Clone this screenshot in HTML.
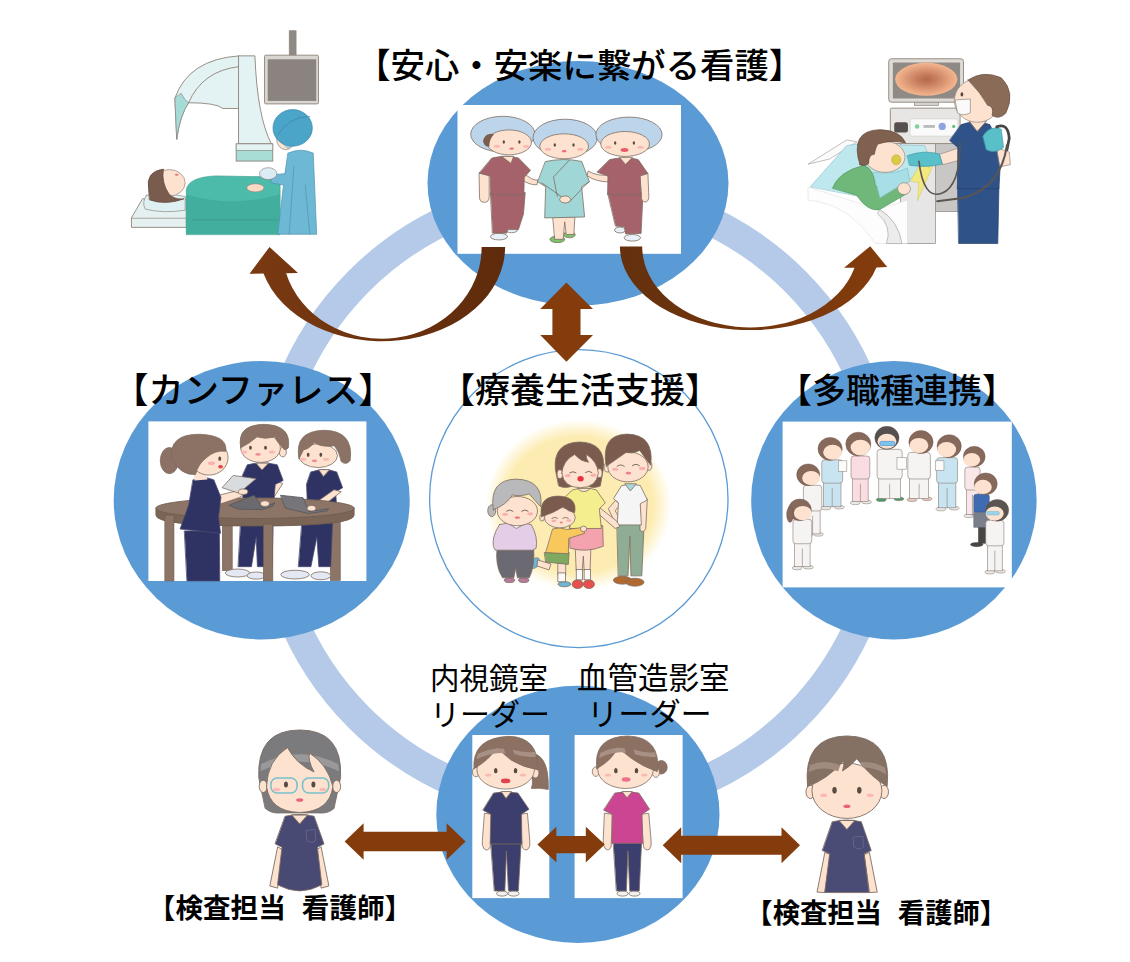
<!DOCTYPE html>
<html lang="ja"><head><meta charset="utf-8"><title>diagram</title>
<style>html,body{margin:0;padding:0;background:#fff;font-family:"Liberation Sans",sans-serif}svg{display:block}</style></head><body>
<svg width="1130" height="962" viewBox="0 0 1130 962">
<defs>
<radialGradient id="glow" cx="50%" cy="50%" r="50%"><stop offset="0" stop-color="#fdecb2"/><stop offset="0.8" stop-color="#fdecb2"/><stop offset="1" stop-color="#fdecb2" stop-opacity="0"/></radialGradient>
<linearGradient id="cl" x1="0" x2="1" y1="0" y2="0"><stop offset="0" stop-color="#7a3a12"/><stop offset="1" stop-color="#5e2b0c"/></linearGradient>
<linearGradient id="cr" x1="0" x2="1" y1="0" y2="0"><stop offset="0" stop-color="#64300e"/><stop offset="1" stop-color="#843c0c"/></linearGradient>
<radialGradient id="scr" cx="50%" cy="50%" r="50%"><stop offset="0" stop-color="#b4684a"/><stop offset="0.35" stop-color="#c98062"/><stop offset="1" stop-color="#f4b78e"/></radialGradient>
</defs>
<rect width="1130" height="962" fill="#fff"/>
<circle cx="577" cy="499.3" r="308.5" fill="none" stroke="#b4cae8" stroke-width="29"/>
<ellipse cx="578" cy="183.3" rx="150.5" ry="122.2" fill="#5b9bd5"/>
<ellipse cx="261.7" cy="500.2" rx="148" ry="139.2" fill="#5b9bd5"/>
<ellipse cx="893.9" cy="500.2" rx="142.7" ry="139.2" fill="#5b9bd5"/>
<ellipse cx="577.9" cy="814.3" rx="141.6" ry="128.6" fill="#5b9bd5"/>
<ellipse cx="578.8" cy="498.6" rx="149.2" ry="149" fill="#fff" stroke="#5b9bd5" stroke-width="1.3"/>
<rect x="457.5" y="105" width="223.5" height="148.8" fill="#fff"/>
<rect x="148.4" y="421.4" width="218" height="159.6" fill="#fff"/>
<rect x="782.6" y="421.6" width="229.2" height="165.8" fill="#fff"/>
<rect x="472.3" y="735" width="77" height="163.1" fill="#fff"/>
<rect x="574.6" y="735" width="108" height="163.1" fill="#fff"/>
<ellipse cx="578.6" cy="505" rx="93" ry="85.5" fill="url(#glow)"/>
<g transform="translate(460,105) scale(0.19470)"><ellipse cx="265" cy="642" rx="30" ry="14" fill="#e9f1f8" stroke="#7d6c61" stroke-width="4"/><ellipse cx="200" cy="676" rx="44" ry="17" fill="#e9f1f8" stroke="#7d6c61" stroke-width="4"/><path d="M158,450 L335,450 L326,560 L300,640 L245,640 L240,658 L168,658 Z" fill="#a5626b" stroke="#7d6c61" stroke-width="4" stroke-linejoin="round" stroke-linecap="round"/><path d="M100,350 L150,360 L150,470 Q150,500 125,500 Q98,500 100,470 Z" fill="#fce2cf" stroke="#7d6c61" stroke-width="4" stroke-linejoin="round" stroke-linecap="round"/><path d="M330,350 Q370,390 400,385 L395,410 Q350,410 322,385 Z" fill="#fce2cf" stroke="#7d6c61" stroke-width="4" stroke-linejoin="round" stroke-linecap="round"/><path d="M165,272 Q235,255 300,272 L362,335 L330,372 L328,460 L158,460 L155,365 L100,350 Z" fill="#a5626b" stroke="#7d6c61" stroke-width="4" stroke-linejoin="round" stroke-linecap="round"/><path d="M215,265 L262,300 L275,265 Z" fill="#fce2cf" stroke="#7d6c61" stroke-width="4" stroke-linejoin="round" stroke-linecap="round"/><ellipse cx="220" cy="150" rx="165" ry="92" fill="#bcd5ea" stroke="#7d6c61" stroke-width="4"/><ellipse cx="252" cy="192" rx="115" ry="64" fill="#fce2cf" stroke="#7d6c61" stroke-width="4"/><path d="M118,185 Q130,140 175,150 Q150,175 150,215 Q125,215 118,185 Z" fill="#7a5d4f"/><ellipse cx="225" cy="190" rx="6" ry="9.0" fill="#5a4a42"/><ellipse cx="305" cy="190" rx="6" ry="9.0" fill="#5a4a42"/><ellipse cx="190" cy="212" rx="16" ry="8" fill="#f9b9b4"/><ellipse cx="340" cy="212" rx="16" ry="8" fill="#f9b9b4"/><ellipse cx="265" cy="224" rx="12" ry="6.0" fill="#e8727a"/><ellipse cx="562" cy="666" rx="30" ry="16" fill="#7cc36a" stroke="#7d6c61" stroke-width="4"/><ellipse cx="500" cy="690" rx="38" ry="17" fill="#7cc36a" stroke="#7d6c61" stroke-width="4"/><path d="M478,575 L590,575 L585,665 L545,665 L538,600 L530,690 L488,690 Z" fill="#fce2cf" stroke="#7d6c61" stroke-width="4" stroke-linejoin="round" stroke-linecap="round"/><path d="M440,290 Q535,270 625,290 L665,395 L625,420 L640,575 L435,580 L440,420 L400,395 Z" fill="#a0d6d6" stroke="#7d6c61" stroke-width="4" stroke-linejoin="round" stroke-linecap="round"/><path d="M560,285 L480,370 L500,470" fill="none" stroke="#7d6c61" stroke-width="4" stroke-linejoin="round" stroke-linecap="round"/><path d="M420,400 L520,470 L560,500 L660,395" fill="none" stroke="#7d6c61" stroke-width="4" stroke-linejoin="round" stroke-linecap="round"/><ellipse cx="540" cy="485" rx="28" ry="18" fill="#fce2cf" stroke="#7d6c61" stroke-width="4"/><ellipse cx="540" cy="168" rx="165" ry="95" fill="#bcd5ea" stroke="#7d6c61" stroke-width="4"/><ellipse cx="535" cy="212" rx="125" ry="64" fill="#fce2cf" stroke="#7d6c61" stroke-width="4"/><ellipse cx="487" cy="205" rx="6" ry="9.0" fill="#5a4a42"/><ellipse cx="583" cy="205" rx="6" ry="9.0" fill="#5a4a42"/><ellipse cx="452" cy="227" rx="16" ry="8" fill="#f9b9b4"/><ellipse cx="618" cy="227" rx="16" ry="8" fill="#f9b9b4"/><ellipse cx="535" cy="237" rx="12" ry="6.0" fill="#ea6b78"/><ellipse cx="822" cy="642" rx="28" ry="15" fill="#e9f1f8" stroke="#7d6c61" stroke-width="4"/><ellipse cx="885" cy="682" rx="42" ry="17" fill="#e9f1f8" stroke="#7d6c61" stroke-width="4"/><path d="M760,452 L940,452 L930,660 L850,662 L845,625 L800,622 Z" fill="#a5626b" stroke="#7d6c61" stroke-width="4" stroke-linejoin="round" stroke-linecap="round"/><path d="M925,360 L965,350 L970,470 Q968,500 950,498 Q930,495 932,470 Z" fill="#fce2cf" stroke="#7d6c61" stroke-width="4" stroke-linejoin="round" stroke-linecap="round"/><path d="M660,340 Q700,365 760,360 L765,395 Q700,395 655,365 Z" fill="#fce2cf" stroke="#7d6c61" stroke-width="4" stroke-linejoin="round" stroke-linecap="round"/><path d="M770,280 Q850,262 915,280 L965,352 L925,365 L930,460 L758,460 L760,365 L705,345 Z" fill="#a5626b" stroke="#7d6c61" stroke-width="4" stroke-linejoin="round" stroke-linecap="round"/><path d="M820,270 L850,305 L885,270 Z" fill="#fce2cf" stroke="#7d6c61" stroke-width="4" stroke-linejoin="round" stroke-linecap="round"/><ellipse cx="868" cy="152" rx="170" ry="90" fill="#bcd5ea" stroke="#7d6c61" stroke-width="4"/><ellipse cx="848" cy="200" rx="125" ry="64" fill="#fce2cf" stroke="#7d6c61" stroke-width="4"/><ellipse cx="797" cy="195" rx="6" ry="9.0" fill="#5a4a42"/><ellipse cx="893" cy="195" rx="6" ry="9.0" fill="#5a4a42"/><ellipse cx="762" cy="217" rx="16" ry="8" fill="#f9b9b4"/><ellipse cx="928" cy="217" rx="16" ry="8" fill="#f9b9b4"/><ellipse cx="845" cy="231" rx="20" ry="10.0" fill="#ea5a66"/></g>
<g transform="translate(466,730) scale(0.19822)"><ellipse cx="182" cy="825" rx="28" ry="13" fill="#f1f1f1" stroke="#7d6c61" stroke-width="4"/><ellipse cx="240" cy="825" rx="28" ry="13" fill="#f1f1f1" stroke="#7d6c61" stroke-width="4"/><path d="M126,570 L278,570 L264,812 L214,812 L204,610 L196,812 L144,812 Z" fill="#3c3f6d" stroke="#7d6c61" stroke-width="4" stroke-linejoin="round" stroke-linecap="round"/><path d="M95,420 L130,425 L122,590 Q110,615 92,600 Q78,585 82,560 Z" fill="#fce2cf" stroke="#7d6c61" stroke-width="4" stroke-linejoin="round" stroke-linecap="round"/><path d="M275,425 L310,420 L322,560 Q326,590 312,602 Q292,612 284,590 Z" fill="#fce2cf" stroke="#7d6c61" stroke-width="4" stroke-linejoin="round" stroke-linecap="round"/><path d="M140,318 Q200,305 262,318 L318,400 L280,425 L282,575 L122,575 L125,425 L86,405 Z" fill="#3c3f6d" stroke="#7d6c61" stroke-width="4" stroke-linejoin="round" stroke-linecap="round"/><path d="M178,312 L202,345 L228,312 Z" fill="#fce2cf" stroke="#7d6c61" stroke-width="4" stroke-linejoin="round" stroke-linecap="round"/><path d="M345,120 Q420,140 415,300 Q370,290 330,295 Q345,250 320,200 Z" fill="#8c7163" stroke="#7d6c61" stroke-width="4" stroke-linejoin="round" stroke-linecap="round"/><ellipse cx="50" cy="212" rx="18" ry="24" fill="#fce2cf" stroke="#7d6c61" stroke-width="4"/><ellipse cx="350" cy="218" rx="18" ry="24" fill="#fce2cf" stroke="#7d6c61" stroke-width="4"/><ellipse cx="200" cy="200" rx="145" ry="98" fill="#fce2cf" stroke="#7d6c61" stroke-width="4"/><path d="M40,195 Q30,40 215,32 Q370,35 360,200 Q290,190 225,150 Q160,95 155,90 Q120,150 40,195 Z" fill="#8c7163" stroke="#7d6c61" stroke-width="4" stroke-linejoin="round" stroke-linecap="round"/><path d="M60,120 Q140,85 190,95 L200,118 Q140,108 52,148 Z" fill="#a89084"/><path d="M235,100 Q300,118 350,110 L352,135 Q300,140 245,122 Z" fill="#a89084"/><ellipse cx="150" cy="205" rx="9" ry="13.5" fill="#5a4a42"/><ellipse cx="250" cy="205" rx="9" ry="13.5" fill="#5a4a42"/><ellipse cx="112" cy="227" rx="16" ry="8" fill="#f9b9b4"/><ellipse cx="288" cy="227" rx="16" ry="8" fill="#f9b9b4"/><ellipse cx="200" cy="257" rx="24" ry="12.0" fill="#e2414d"/><ellipse cx="790" cy="825" rx="28" ry="13" fill="#f1f1f1" stroke="#7d6c61" stroke-width="4"/><ellipse cx="850" cy="825" rx="28" ry="13" fill="#f1f1f1" stroke="#7d6c61" stroke-width="4"/><path d="M744,565 L886,565 L874,812 L826,812 L817,610 L809,812 L760,812 Z" fill="#3c3f6d" stroke="#7d6c61" stroke-width="4" stroke-linejoin="round" stroke-linecap="round"/><path d="M700,420 L738,425 L732,590 Q722,612 704,600 Q690,585 692,560 Z" fill="#fce2cf" stroke="#7d6c61" stroke-width="4" stroke-linejoin="round" stroke-linecap="round"/><path d="M885,425 L922,420 L934,560 Q938,590 924,602 Q904,612 896,590 Z" fill="#fce2cf" stroke="#7d6c61" stroke-width="4" stroke-linejoin="round" stroke-linecap="round"/><path d="M752,318 Q812,305 872,318 L926,400 L888,425 L892,572 L736,572 L738,425 L695,405 Z" fill="#cc4592" stroke="#7d6c61" stroke-width="4" stroke-linejoin="round" stroke-linecap="round"/><path d="M788,312 L812,342 L838,312 Z" fill="#fce2cf" stroke="#7d6c61" stroke-width="4" stroke-linejoin="round" stroke-linecap="round"/><ellipse cx="985" cy="188" rx="30" ry="34" fill="#8c7163" stroke="#7d6c61" stroke-width="4"/><ellipse cx="655" cy="210" rx="18" ry="24" fill="#fce2cf" stroke="#7d6c61" stroke-width="4"/><ellipse cx="958" cy="215" rx="18" ry="24" fill="#fce2cf" stroke="#7d6c61" stroke-width="4"/><ellipse cx="805" cy="200" rx="140" ry="95" fill="#fce2cf" stroke="#7d6c61" stroke-width="4"/><path d="M660,195 Q640,35 815,30 Q985,35 965,210 Q890,185 830,140 Q780,100 765,88 Q740,150 660,195 Z" fill="#8c7163" stroke="#7d6c61" stroke-width="4" stroke-linejoin="round" stroke-linecap="round"/><path d="M678,115 Q750,82 800,92 L808,115 Q750,105 670,142 Z" fill="#a89084"/><path d="M845,98 Q905,118 955,112 L958,136 Q905,140 852,122 Z" fill="#a89084"/><ellipse cx="756" cy="205" rx="9" ry="13.5" fill="#5a4a42"/><ellipse cx="860" cy="205" rx="9" ry="13.5" fill="#5a4a42"/><ellipse cx="716" cy="227" rx="16" ry="8" fill="#f9b9b4"/><ellipse cx="900" cy="227" rx="16" ry="8" fill="#f9b9b4"/><ellipse cx="808" cy="250" rx="22" ry="11.0" fill="#ec6f8b"/></g>
<g transform="translate(230,720) scale(0.22124)"><path d="M215,575 L180,750 L215,760 L240,590 Z" fill="#fce2cf" stroke="#7d6c61" stroke-width="4" stroke-linejoin="round" stroke-linecap="round"/><path d="M412,575 L447,750 L412,760 L390,590 Z" fill="#fce2cf" stroke="#7d6c61" stroke-width="4" stroke-linejoin="round" stroke-linecap="round"/><path d="M250,435 Q315,420 380,435 L425,560 L395,575 L415,745 Q315,800 215,745 L235,575 L205,560 Z" fill="#484a73" stroke="#7d6c61" stroke-width="4" stroke-linejoin="round" stroke-linecap="round"/><path d="M280,430 L315,470 L350,430 Z" fill="#fce2cf" stroke="#7d6c61" stroke-width="4" stroke-linejoin="round" stroke-linecap="round"/><path d="M345,500 L385,495 L388,545 Q368,560 348,545 Z" fill="none" stroke="#6f7196" stroke-width="3" stroke-linejoin="round" stroke-linecap="round"/><path d="M130,260 Q120,45 315,45 Q510,45 500,260 L470,400 Q440,425 400,420 L230,420 Q190,425 160,400 Z" fill="#7b7a7d" stroke="#7d6c61" stroke-width="4" stroke-linejoin="round" stroke-linecap="round"/><path d="M140,200 Q315,110 490,200 L492,232 Q315,145 138,232 Z" fill="#99999b"/><ellipse cx="150" cy="300" rx="18" ry="28" fill="#fce2cf" stroke="#7d6c61" stroke-width="4"/><ellipse cx="482" cy="300" rx="18" ry="28" fill="#fce2cf" stroke="#7d6c61" stroke-width="4"/><path d="M165,300 Q170,180 260,125 Q300,200 380,235 Q350,180 360,150 Q440,200 465,300 Q450,415 315,418 Q180,415 165,300 Z" fill="#fce2cf" stroke="#7d6c61" stroke-width="4" stroke-linejoin="round" stroke-linecap="round"/><ellipse cx="253" cy="292" rx="9" ry="13.5" fill="#5a4a42"/><ellipse cx="377" cy="292" rx="9" ry="13.5" fill="#5a4a42"/><ellipse cx="210" cy="314" rx="16" ry="8" fill="#f9b9b4"/><ellipse cx="420" cy="314" rx="16" ry="8" fill="#f9b9b4"/><ellipse cx="315" cy="362" rx="16" ry="8.0" fill="#e8627a"/><rect x="185" y="262" width="118" height="68" fill="none" stroke="#78c1cc" stroke-width="7" rx="28"/><rect x="328" y="262" width="118" height="68" fill="none" stroke="#78c1cc" stroke-width="7" rx="28"/></g>
<g transform="translate(650,720) scale(0.22124)"><path d="M790,600 L755,778 L790,780 L815,610 Z" fill="#fce2cf" stroke="#7d6c61" stroke-width="4" stroke-linejoin="round" stroke-linecap="round"/><path d="M992,600 L1027,778 L992,780 L968,610 Z" fill="#fce2cf" stroke="#7d6c61" stroke-width="4" stroke-linejoin="round" stroke-linecap="round"/><path d="M825,460 Q890,445 955,460 L1000,590 L968,605 L990,780 L790,780 L812,605 L780,590 Z" fill="#4a4c75" stroke="#7d6c61" stroke-width="4" stroke-linejoin="round" stroke-linecap="round"/><path d="M855,455 L890,495 L925,455 Z" fill="#fce2cf" stroke="#7d6c61" stroke-width="4" stroke-linejoin="round" stroke-linecap="round"/><ellipse cx="725" cy="325" rx="20" ry="30" fill="#fce2cf" stroke="#7d6c61" stroke-width="4"/><ellipse cx="1058" cy="325" rx="20" ry="30" fill="#fce2cf" stroke="#7d6c61" stroke-width="4"/><ellipse cx="890" cy="320" rx="158" ry="125" fill="#fce2cf" stroke="#7d6c61" stroke-width="4"/><path d="M712,300 Q690,75 890,72 Q1095,75 1072,300 Q1000,260 935,175 Q900,215 870,230 Q880,200 875,185 Q800,270 712,300 Z" fill="#857163" stroke="#7d6c61" stroke-width="4" stroke-linejoin="round" stroke-linecap="round"/><path d="M722,205 Q790,175 860,205 L850,232 Q790,205 716,235 Z" fill="#a08b7e"/><path d="M950,190 Q1010,185 1062,215 L1068,245 Q1010,212 962,215 Z" fill="#a08b7e"/><ellipse cx="834" cy="318" rx="10" ry="15.0" fill="#5a4a42"/><ellipse cx="946" cy="318" rx="10" ry="15.0" fill="#5a4a42"/><ellipse cx="785" cy="340" rx="16" ry="8" fill="#f9b9b4"/><ellipse cx="995" cy="340" rx="16" ry="8" fill="#f9b9b4"/><ellipse cx="890" cy="390" rx="16" ry="8.0" fill="#e8627a"/><path d="M920,530 L962,525 L965,575 Q945,590 923,575 Z" fill="none" stroke="#6f7196" stroke-width="3" stroke-linejoin="round" stroke-linecap="round"/></g>
<g transform="translate(146,418) scale(0.19822)"><rect x="385" y="500" width="50" height="270" fill="#8c7466" stroke="#6e5a4e" stroke-width="3"/><rect x="930" y="500" width="50" height="320" fill="#8c7466" stroke="#6e5a4e" stroke-width="3"/><ellipse cx="462" cy="782" rx="62" ry="20" fill="#e3e8f3" stroke="#7d6c61" stroke-width="4"/><ellipse cx="556" cy="795" rx="46" ry="18" fill="#e3e8f3" stroke="#7d6c61" stroke-width="4"/><path d="M480,500 L642,500 L636,750 L562,750 L556,600 L532,750 L466,750 Z" fill="#2f3364" stroke="#4a4a70" stroke-width="4" stroke-linejoin="round" stroke-linecap="round"/><path d="M655,320 L690,330 L620,440 L580,430 Z" fill="#fce2cf" stroke="#7d6c61" stroke-width="4" stroke-linejoin="round" stroke-linecap="round"/><path d="M512,236 Q590,218 662,236 L692,315 L652,335 L642,450 L490,450 L486,292 Z" fill="#2f3364" stroke="#4a4a70" stroke-width="4" stroke-linejoin="round" stroke-linecap="round"/><path d="M555,228 L585,262 L618,228 Z" fill="#fce2cf" stroke="#7d6c61" stroke-width="4" stroke-linejoin="round" stroke-linecap="round"/><ellipse cx="690" cy="172" rx="18" ry="24" fill="#fce2cf" stroke="#7d6c61" stroke-width="4"/><ellipse cx="578" cy="152" rx="100" ry="72" fill="#fce2cf" stroke="#7d6c61" stroke-width="4"/><path d="M478,150 Q455,35 595,32 Q735,35 718,150 Q700,170 690,150 Q660,120 650,95 Q600,110 560,95 Q520,130 478,150 Z" fill="#8b7265" stroke="#7d6c61" stroke-width="4" stroke-linejoin="round" stroke-linecap="round"/><ellipse cx="527" cy="150" rx="7" ry="10.5" fill="#5a4a42"/><ellipse cx="603" cy="150" rx="7" ry="10.5" fill="#5a4a42"/><ellipse cx="495" cy="172" rx="16" ry="8" fill="#f9b9b4"/><ellipse cx="635" cy="172" rx="16" ry="8" fill="#f9b9b4"/><ellipse cx="565" cy="184" rx="14" ry="7.0" fill="#ef8e93"/><ellipse cx="752" cy="790" rx="72" ry="22" fill="#e3e8f3" stroke="#7d6c61" stroke-width="4"/><ellipse cx="882" cy="796" rx="50" ry="20" fill="#e3e8f3" stroke="#7d6c61" stroke-width="4"/><path d="M790,500 L942,500 L932,750 L872,750 L862,600 L832,750 L770,750 Z" fill="#2f3364" stroke="#4a4a70" stroke-width="4" stroke-linejoin="round" stroke-linecap="round"/><path d="M832,272 Q900,250 962,272 L992,352 L957,372 L962,460 L815,460 L810,335 Z" fill="#2f3364" stroke="#4a4a70" stroke-width="4" stroke-linejoin="round" stroke-linecap="round"/><path d="M950,362 L985,372 L870,460 L825,450 Z" fill="#fce2cf" stroke="#7d6c61" stroke-width="4" stroke-linejoin="round" stroke-linecap="round"/><path d="M872,262 L895,295 L925,262 Z" fill="#fce2cf" stroke="#7d6c61" stroke-width="4" stroke-linejoin="round" stroke-linecap="round"/><ellipse cx="868" cy="190" rx="98" ry="60" fill="#fce2cf" stroke="#7d6c61" stroke-width="4"/><path d="M772,205 Q745,65 900,62 Q1050,65 1030,215 Q1010,240 985,220 Q975,170 950,140 Q890,150 850,125 Q815,160 795,160 Q785,180 772,205 Z" fill="#8b7265" stroke="#7d6c61" stroke-width="4" stroke-linejoin="round" stroke-linecap="round"/><ellipse cx="818" cy="186" rx="7" ry="10.5" fill="#5a4a42"/><ellipse cx="882" cy="186" rx="7" ry="10.5" fill="#5a4a42"/><ellipse cx="792" cy="208" rx="16" ry="8" fill="#f9b9b4"/><ellipse cx="908" cy="208" rx="16" ry="8" fill="#f9b9b4"/><ellipse cx="850" cy="216" rx="14" ry="7.0" fill="#ef8e93"/><path d="M50,455 L50,490 Q50,545 550,545 Q1050,545 1050,490 L1050,455 Z" fill="#7b6557" stroke="#6e5a4e" stroke-width="4" stroke-linejoin="round" stroke-linecap="round"/><ellipse cx="550" cy="455" rx="500" ry="52" fill="#8c7466" stroke="#6e5a4e" stroke-width="4"/><path d="M420,440 L545,390 L588,452 L650,428 L640,445 L590,462 L470,460 Z" fill="#6b6b6f" stroke="#55555a" stroke-width="4" stroke-linejoin="round" stroke-linecap="round"/><path d="M680,390 L792,402 L822,472 L920,458 L915,468 L820,482 L705,455 Z" fill="#76767a" stroke="#55555a" stroke-width="4" stroke-linejoin="round" stroke-linecap="round"/><ellipse cx="600" cy="432" rx="22" ry="14" fill="#fce2cf" stroke="#7d6c61" stroke-width="4"/><ellipse cx="835" cy="455" rx="22" ry="14" fill="#fce2cf" stroke="#7d6c61" stroke-width="4"/><rect x="95" y="490" width="46" height="332" fill="#8c7466" stroke="#6e5a4e" stroke-width="3"/><rect x="592" y="535" width="48" height="287" fill="#8c7466" stroke="#6e5a4e" stroke-width="3"/><path d="M195,570 L370,570 L372,822 L208,822 Z" fill="#2f3364" stroke="#4a4a70" stroke-width="4" stroke-linejoin="round" stroke-linecap="round"/><path d="M345,395 L480,362 L505,378 L470,402 L362,438 Z" fill="#fce2cf" stroke="#7d6c61" stroke-width="4" stroke-linejoin="round" stroke-linecap="round"/><path d="M238,312 Q290,290 342,312 L378,400 L366,500 L376,582 L172,560 L215,440 Z" fill="#2f3364" stroke="#4a4a70" stroke-width="4" stroke-linejoin="round" stroke-linecap="round"/><path d="M385,350 L440,290 L556,306 L470,378 Z" fill="#d9dcdf" stroke="#7d6c61" stroke-width="4" stroke-linejoin="round" stroke-linecap="round"/><ellipse cx="490" cy="372" rx="24" ry="14" fill="#fce2cf" stroke="#7d6c61" stroke-width="4"/><path d="M240,270 L300,270 L310,310 L245,315 Z" fill="#fce2cf"/><ellipse cx="118" cy="215" rx="46" ry="66" fill="#8b7265" stroke="#7d6c61" stroke-width="4"/><ellipse cx="318" cy="200" rx="96" ry="88" fill="#fce2cf" stroke="#7d6c61" stroke-width="4"/><path d="M128,205 Q115,80 270,82 Q415,88 402,168 Q350,160 305,200 Q262,232 250,285 Q175,290 128,205 Z" fill="#8b7265" stroke="#7d6c61" stroke-width="4" stroke-linejoin="round" stroke-linecap="round"/><ellipse cx="372" cy="205" rx="7" ry="11" fill="#5a4a42"/><ellipse cx="330" cy="228" rx="18" ry="9" fill="#f9b0ad"/><ellipse cx="376" cy="246" rx="12" ry="9" fill="#e8414b"/></g>
<g transform="translate(780,418) scale(0.20886)"><ellipse cx="132" cy="561" rx="24" ry="9" fill="#ece9e6" stroke="#857a70" stroke-width="2.5"/><ellipse cx="184" cy="557" rx="24" ry="9" fill="#ece9e6" stroke="#857a70" stroke-width="2.5"/><rect x="120" y="440" width="72" height="115" fill="#f5f4f3" stroke="#8d8178" stroke-width="3"/><path d="M156.0,470 L156.0,555" fill="none" stroke="#8d8178" stroke-width="3" stroke-linejoin="round" stroke-linecap="round"/><rect x="112" y="322" width="88" height="123" fill="#f5f4f3" stroke="#8d8178" stroke-width="3" rx="14"/><ellipse cx="135" cy="272" rx="55" ry="52.25" fill="#87695b" stroke="#6b5246" stroke-width="2"/><ellipse cx="149" cy="287.4" rx="42.9" ry="34.1" fill="#fce2cf"/><ellipse cx="220" cy="431" rx="24" ry="9" fill="#ece9e6" stroke="#857a70" stroke-width="2.5"/><ellipse cx="284" cy="427" rx="24" ry="9" fill="#ece9e6" stroke="#857a70" stroke-width="2.5"/><rect x="208" y="307" width="84" height="118" fill="#c9e4f1" stroke="#8d8178" stroke-width="3"/><path d="M250.0,337 L250.0,425" fill="none" stroke="#8d8178" stroke-width="3" stroke-linejoin="round" stroke-linecap="round"/><rect x="200" y="200" width="100" height="112" fill="#c9e4f1" stroke="#8d8178" stroke-width="3" rx="14"/><ellipse cx="240" cy="148" rx="58" ry="55.099999999999994" fill="#87695b" stroke="#6b5246" stroke-width="2"/><ellipse cx="252" cy="164.24" rx="45.24" ry="35.96" fill="#fce2cf"/><ellipse cx="360" cy="406" rx="24" ry="9" fill="#ece9e6" stroke="#857a70" stroke-width="2.5"/><ellipse cx="414" cy="402" rx="24" ry="9" fill="#ece9e6" stroke="#857a70" stroke-width="2.5"/><rect x="348" y="287" width="74" height="113" fill="#fadde2" stroke="#8d8178" stroke-width="3"/><path d="M385.0,317 L385.0,400" fill="none" stroke="#8d8178" stroke-width="3" stroke-linejoin="round" stroke-linecap="round"/><rect x="340" y="182" width="90" height="110" fill="#fadde2" stroke="#8d8178" stroke-width="3" rx="14"/><ellipse cx="375" cy="125" rx="60" ry="57.0" fill="#87695b" stroke="#6b5246" stroke-width="2"/><ellipse cx="385" cy="141.8" rx="46.800000000000004" ry="37.2" fill="#fce2cf"/><ellipse cx="485" cy="391" rx="24" ry="9" fill="#4c9a6c" stroke="#857a70" stroke-width="2.5"/><ellipse cx="569" cy="387" rx="24" ry="9" fill="#4c9a6c" stroke="#857a70" stroke-width="2.5"/><rect x="473" y="287" width="104" height="98" fill="#f5f4f3" stroke="#8d8178" stroke-width="3"/><path d="M525.0,317 L525.0,385" fill="none" stroke="#8d8178" stroke-width="3" stroke-linejoin="round" stroke-linecap="round"/><rect x="465" y="150" width="120" height="142" fill="#f5f4f3" stroke="#8d8178" stroke-width="3" rx="14"/><ellipse cx="512" cy="95" rx="58" ry="55.099999999999994" fill="#55504f" stroke="#6b5246" stroke-width="2"/><ellipse cx="512" cy="111.24000000000001" rx="45.24" ry="35.96" fill="#fce2cf"/><rect x="478" y="112" width="72" height="20" fill="#7cc4ee" stroke="#3f8fd0" stroke-width="3" rx="8"/><ellipse cx="632" cy="391" rx="24" ry="9" fill="#e4c9c0" stroke="#857a70" stroke-width="2.5"/><ellipse cx="704" cy="387" rx="24" ry="9" fill="#e4c9c0" stroke="#857a70" stroke-width="2.5"/><rect x="620" y="287" width="92" height="98" fill="#f5f4f3" stroke="#8d8178" stroke-width="3"/><path d="M666.0,317 L666.0,385" fill="none" stroke="#8d8178" stroke-width="3" stroke-linejoin="round" stroke-linecap="round"/><rect x="612" y="165" width="108" height="127" fill="#f5f4f3" stroke="#8d8178" stroke-width="3" rx="14"/><ellipse cx="675" cy="115" rx="58" ry="55.099999999999994" fill="#87695b" stroke="#6b5246" stroke-width="2"/><ellipse cx="665" cy="131.24" rx="45.24" ry="35.96" fill="#fce2cf"/><ellipse cx="770" cy="436" rx="24" ry="9" fill="#ece9e6" stroke="#857a70" stroke-width="2.5"/><ellipse cx="834" cy="432" rx="24" ry="9" fill="#ece9e6" stroke="#857a70" stroke-width="2.5"/><rect x="758" y="307" width="84" height="123" fill="#c9e4f1" stroke="#8d8178" stroke-width="3"/><path d="M800.0,337 L800.0,430" fill="none" stroke="#8d8178" stroke-width="3" stroke-linejoin="round" stroke-linecap="round"/><rect x="750" y="190" width="100" height="122" fill="#c9e4f1" stroke="#8d8178" stroke-width="3" rx="14"/><ellipse cx="810" cy="135" rx="58" ry="55.099999999999994" fill="#87695b" stroke="#6b5246" stroke-width="2"/><ellipse cx="798" cy="151.24" rx="45.24" ry="35.96" fill="#fce2cf"/><ellipse cx="905" cy="468" rx="24" ry="9" fill="#ece9e6" stroke="#857a70" stroke-width="2.5"/><ellipse cx="942" cy="464" rx="24" ry="9" fill="#ece9e6" stroke="#857a70" stroke-width="2.5"/><rect x="893" y="340" width="57" height="122" fill="#f9e6e8" stroke="#8d8178" stroke-width="3"/><path d="M921.5,370 L921.5,462" fill="none" stroke="#8d8178" stroke-width="3" stroke-linejoin="round" stroke-linecap="round"/><rect x="885" y="235" width="73" height="110" fill="#f9e6e8" stroke="#8d8178" stroke-width="3" rx="14"/><ellipse cx="930" cy="185" rx="52" ry="49.4" fill="#87695b" stroke="#6b5246" stroke-width="2"/><ellipse cx="918" cy="199.56" rx="40.56" ry="32.24" fill="#fce2cf"/><ellipse cx="82" cy="718" rx="24" ry="9" fill="#ece9e6" stroke="#857a70" stroke-width="2.5"/><ellipse cx="136" cy="714" rx="24" ry="9" fill="#ece9e6" stroke="#857a70" stroke-width="2.5"/><rect x="70" y="597" width="74" height="115" fill="#f5f4f3" stroke="#8d8178" stroke-width="3"/><path d="M107.0,627 L107.0,712" fill="none" stroke="#8d8178" stroke-width="3" stroke-linejoin="round" stroke-linecap="round"/><rect x="62" y="485" width="90" height="117" fill="#f5f4f3" stroke="#8d8178" stroke-width="3" rx="14"/><ellipse cx="95" cy="440" rx="55" ry="52.25" fill="#87695b" stroke="#6b5246" stroke-width="2"/><ellipse cx="109" cy="455.4" rx="42.9" ry="34.1" fill="#fce2cf"/><ellipse cx="48" cy="462" rx="16" ry="38" fill="#87695b" stroke="#6b5246" stroke-width="2"/><rect x="950" y="520" width="36" height="80" fill="#4a4545" stroke="#3a3535" stroke-width="2"/><ellipse cx="942" cy="606" rx="30" ry="10" fill="#4a4545" stroke="#3a3535" stroke-width="2"/><rect x="928" y="445" width="74" height="78" fill="#7a7f8c" stroke="#5f6470" stroke-width="2.5"/><rect x="928" y="365" width="74" height="85" fill="#3f6cb1" stroke="#2f528a" stroke-width="2.5" rx="12"/><ellipse cx="985" cy="315" rx="55" ry="52" fill="#87695b" stroke="#6b5246" stroke-width="2"/><ellipse cx="972" cy="330" rx="42" ry="34" fill="#fce2cf"/><ellipse cx="1005" cy="738" rx="24" ry="9" fill="#ece9e6" stroke="#857a70" stroke-width="2.5"/><ellipse cx="1056" cy="734" rx="24" ry="9" fill="#ece9e6" stroke="#857a70" stroke-width="2.5"/><rect x="993" y="607" width="71" height="125" fill="#f5f4f3" stroke="#8d8178" stroke-width="3"/><path d="M1028.5,637 L1028.5,732" fill="none" stroke="#8d8178" stroke-width="3" stroke-linejoin="round" stroke-linecap="round"/><rect x="985" y="490" width="87" height="122" fill="#f5f4f3" stroke="#8d8178" stroke-width="3" rx="14"/><ellipse cx="1040" cy="442" rx="55" ry="52.25" fill="#5b5552" stroke="#6b5246" stroke-width="2"/><ellipse cx="1028" cy="457.4" rx="42.9" ry="34.1" fill="#fce2cf"/><rect x="990" y="448" width="60" height="16" fill="#9fd3ea" stroke="#5aa8d0" stroke-width="2" rx="6"/><rect x="280" y="205" width="40" height="50" fill="#fbfbfb" stroke="#8d8178" stroke-width="2.5"/><rect x="560" y="190" width="45" height="55" fill="#fbfbfb" stroke="#8d8178" stroke-width="2.5"/><rect x="745" y="205" width="40" height="45" fill="#fbfbfb" stroke="#8d8178" stroke-width="2.5"/></g>
<g transform="translate(470,410) scale(0.19747)"><ellipse cx="772" cy="862" rx="46" ry="20" fill="#b06a30" stroke="#7d6c61" stroke-width="4"/><ellipse cx="835" cy="872" rx="46" ry="20" fill="#b06a30" stroke="#7d6c61" stroke-width="4"/><path d="M745,570 L882,570 L870,840 L815,840 L810,640 L800,840 L752,840 Z" fill="#8fac94" stroke="#7d6c61" stroke-width="4" stroke-linejoin="round" stroke-linecap="round"/><path d="M862,440 L898,450 L890,600 Q880,625 862,610 Z" fill="#fce2cf" stroke="#7d6c61" stroke-width="4" stroke-linejoin="round" stroke-linecap="round"/><path d="M735,460 L700,500 L740,580 L770,570 L735,510 L760,480 Z" fill="#fce2cf" stroke="#7d6c61" stroke-width="4" stroke-linejoin="round" stroke-linecap="round"/><path d="M770,382 Q815,370 862,382 L898,455 L862,475 L868,582 L745,582 L752,470 L728,450 Z" fill="#f5f5f5" stroke="#7d6c61" stroke-width="4" stroke-linejoin="round" stroke-linecap="round"/><path d="M785,375 L812,410 L842,375 Z" fill="#a8d8dc" stroke="#7d6c61" stroke-width="4" stroke-linejoin="round" stroke-linecap="round"/><ellipse cx="695" cy="290" rx="16" ry="24" fill="#fce2cf" stroke="#7d6c61" stroke-width="4"/><ellipse cx="905" cy="282" rx="16" ry="24" fill="#fce2cf" stroke="#7d6c61" stroke-width="4"/><ellipse cx="800" cy="288" rx="102" ry="76" fill="#fce2cf" stroke="#7d6c61" stroke-width="4"/><path d="M690,285 Q660,125 795,122 Q935,125 915,280 Q880,235 860,205 Q820,225 790,215 Q740,250 690,285 Z" fill="#7b5b4d" stroke="#7d6c61" stroke-width="4" stroke-linejoin="round" stroke-linecap="round"/><path d="M745,285 q18,-14 36,0" fill="none" stroke="#5a4a42" stroke-width="4" stroke-linejoin="round" stroke-linecap="round"/><path d="M822,282 q18,-14 36,0" fill="none" stroke="#5a4a42" stroke-width="4" stroke-linejoin="round" stroke-linecap="round"/><ellipse cx="735" cy="300" rx="16" ry="8" fill="#f9b0ad"/><ellipse cx="872" cy="296" rx="16" ry="8" fill="#f9b0ad"/><ellipse cx="802" cy="320" rx="14" ry="7" fill="#ef7f88"/><ellipse cx="545" cy="882" rx="28" ry="22" fill="#e8504f" stroke="#7d6c61" stroke-width="4"/><ellipse cx="602" cy="882" rx="28" ry="22" fill="#e8504f" stroke="#7d6c61" stroke-width="4"/><path d="M535,705 L612,705 L608,815 L578,815 L574,740 L568,815 L540,815 Z" fill="#fce2cf" stroke="#7d6c61" stroke-width="4" stroke-linejoin="round" stroke-linecap="round"/><rect x="538" y="808" width="32" height="52" fill="#fafafa" stroke="#7d6c61" stroke-width="4"/><rect x="578" y="808" width="32" height="52" fill="#fafafa" stroke="#7d6c61" stroke-width="4"/><path d="M505,585 L672,585 L675,690 Q590,725 508,700 Z" fill="#f4a2ae" stroke="#7d6c61" stroke-width="4" stroke-linejoin="round" stroke-linecap="round"/><path d="M650,490 L740,560 L760,590 L735,600 L655,530 Z" fill="#fce2cf" stroke="#7d6c61" stroke-width="4" stroke-linejoin="round" stroke-linecap="round"/><path d="M520,405 Q580,385 640,405 L685,470 L655,500 L665,600 L505,600 L515,470 L485,440 Z" fill="#f5ee8f" stroke="#7d6c61" stroke-width="4" stroke-linejoin="round" stroke-linecap="round"/><path d="M545,398 Q575,430 610,398 Z" fill="#fce2cf" stroke="#7d6c61" stroke-width="4" stroke-linejoin="round" stroke-linecap="round"/><path d="M432,300 Q420,165 555,162 Q690,165 675,300 L660,385 Q620,400 600,385 L520,385 Q480,400 450,385 Z" fill="#7b5b4d" stroke="#7d6c61" stroke-width="4" stroke-linejoin="round" stroke-linecap="round"/><ellipse cx="455" cy="325" rx="14" ry="22" fill="#fce2cf" stroke="#7d6c61" stroke-width="4"/><ellipse cx="655" cy="320" rx="14" ry="22" fill="#fce2cf" stroke="#7d6c61" stroke-width="4"/><path d="M465,320 Q470,255 530,225 Q560,260 600,265 Q585,240 590,225 Q645,260 650,320 Q640,392 558,394 Q475,392 465,320 Z" fill="#fce2cf" stroke="#7d6c61" stroke-width="4" stroke-linejoin="round" stroke-linecap="round"/><path d="M505,318 q16,-12 32,0" fill="none" stroke="#5a4a42" stroke-width="4" stroke-linejoin="round" stroke-linecap="round"/><path d="M585,316 q16,-12 32,0" fill="none" stroke="#5a4a42" stroke-width="4" stroke-linejoin="round" stroke-linecap="round"/><ellipse cx="495" cy="332" rx="15" ry="8" fill="#f9b0ad"/><ellipse cx="625" cy="330" rx="15" ry="8" fill="#f9b0ad"/><ellipse cx="560" cy="348" rx="16" ry="14" fill="#e8313f"/><ellipse cx="330" cy="775" rx="20" ry="30" fill="#6db8d8" stroke="#7d6c61" stroke-width="3" transform="rotate(35 330 775)"/><path d="M345,760 L410,780 L400,810 L340,790 Z" fill="#fce2cf" stroke="#7d6c61" stroke-width="4" stroke-linejoin="round" stroke-linecap="round"/><ellipse cx="478" cy="882" rx="32" ry="13" fill="#6db8d8" stroke="#7d6c61" stroke-width="4"/><rect x="445" y="775" width="40" height="60" fill="#fce2cf" stroke="#7d6c61" stroke-width="4"/><rect x="445" y="825" width="38" height="45" fill="#fafafa" stroke="#7d6c61" stroke-width="4"/><path d="M378,722 L502,722 L498,782 L385,770 Z" fill="#7fa860" stroke="#7d6c61" stroke-width="4" stroke-linejoin="round" stroke-linecap="round"/><path d="M420,602 Q455,590 490,605 L570,595 L580,625 L500,650 L498,728 L385,722 Z" fill="#f8c85c" stroke="#7d6c61" stroke-width="4" stroke-linejoin="round" stroke-linecap="round"/><ellipse cx="575" cy="602" rx="16" ry="14" fill="#fce2cf" stroke="#7d6c61" stroke-width="4"/><ellipse cx="365" cy="545" rx="12" ry="18" fill="#fce2cf" stroke="#7d6c61" stroke-width="4"/><ellipse cx="455" cy="545" rx="78" ry="52" fill="#fce2cf" stroke="#7d6c61" stroke-width="4"/><path d="M362,540 Q345,438 445,436 Q545,438 530,520 Q500,515 470,490 Q430,520 362,540 Z" fill="#7b5b4d" stroke="#7d6c61" stroke-width="4" stroke-linejoin="round" stroke-linecap="round"/><path d="M415,548 q14,-10 28,0" fill="none" stroke="#5a4a42" stroke-width="3.5" stroke-linejoin="round" stroke-linecap="round"/><path d="M470,548 q14,-10 28,0" fill="none" stroke="#5a4a42" stroke-width="3.5" stroke-linejoin="round" stroke-linecap="round"/><ellipse cx="425" cy="562" rx="13" ry="7" fill="#f9b0ad"/><ellipse cx="500" cy="560" rx="13" ry="7" fill="#f9b0ad"/><ellipse cx="462" cy="570" rx="8" ry="5" fill="#ef7f88"/><ellipse cx="200" cy="862" rx="26" ry="12" fill="#b87a9c" stroke="#7d6c61" stroke-width="4"/><ellipse cx="272" cy="862" rx="26" ry="12" fill="#b87a9c" stroke="#7d6c61" stroke-width="4"/><path d="M138,695 L322,695 Q330,790 300,850 L240,850 L232,800 L222,850 L165,850 Q125,790 138,695 Z" fill="#6b6a72" stroke="#7d6c61" stroke-width="4" stroke-linejoin="round" stroke-linecap="round"/><path d="M150,580 Q235,560 310,580 Q345,640 335,700 L318,710 L128,710 L118,690 Q110,640 150,580 Z" fill="#e4cde6" stroke="#7d6c61" stroke-width="4" stroke-linejoin="round" stroke-linecap="round"/><path d="M200,578 L235,600 L275,578 Z" fill="#fafafa" stroke="#7d6c61" stroke-width="4" stroke-linejoin="round" stroke-linecap="round"/><ellipse cx="110" cy="510" rx="20" ry="30" fill="#b9b9bb" stroke="#7d6c61" stroke-width="4"/><ellipse cx="240" cy="512" rx="102" ry="74" fill="#fce2cf" stroke="#7d6c61" stroke-width="4"/><path d="M118,505 Q95,352 235,350 Q375,355 358,490 Q330,460 300,425 Q250,440 215,430 Q185,480 118,505 Z" fill="#b9b9bb" stroke="#7d6c61" stroke-width="4" stroke-linejoin="round" stroke-linecap="round"/><path d="M185,512 q16,-12 32,0" fill="none" stroke="#5a4a42" stroke-width="4" stroke-linejoin="round" stroke-linecap="round"/><path d="M262,512 q16,-12 32,0" fill="none" stroke="#5a4a42" stroke-width="4" stroke-linejoin="round" stroke-linecap="round"/><ellipse cx="178" cy="528" rx="15" ry="8" fill="#f9b0ad"/><ellipse cx="305" cy="526" rx="15" ry="8" fill="#f9b0ad"/><ellipse cx="240" cy="545" rx="14" ry="6" fill="#ef6f7a"/></g>
<g transform="translate(120,25) scale(0.22868)"><rect x="740" y="25" width="30" height="108" fill="#8f8a85" stroke="#8f857c" stroke-width="3"/><rect x="632" y="132" width="236" height="213" fill="#d9d5d0" stroke="#8f857c" stroke-width="4" rx="6"/><rect x="646" y="150" width="212" height="182" fill="#8a8380"/><path d="M520,135 Q300,150 240,320 L248,500 Q262,395 300,340 Q420,340 450,365 L520,365 Z" fill="#e3f3f3" stroke="#8f857c" stroke-width="4" stroke-linejoin="round" stroke-linecap="round"/><path d="M240,320 L248,500 Q262,395 300,340 Q282,330 268,300 Z" fill="#a5dcd7" stroke="#8f857c" stroke-width="3" stroke-linejoin="round" stroke-linecap="round"/><path d="M520,182 Q360,200 300,340" fill="none" stroke="#8f857c" stroke-width="4" stroke-linejoin="round" stroke-linecap="round"/><path d="M520,135 L590,135 Q600,400 662,520 L520,520 Z" fill="#e3f3f3" stroke="#8f857c" stroke-width="4" stroke-linejoin="round" stroke-linecap="round"/><rect x="508" y="520" width="160" height="75" fill="#a8ddd6" stroke="#8f857c" stroke-width="4"/><rect x="508" y="520" width="160" height="28" fill="#e3f3f3" stroke="#8f857c" stroke-width="3"/><path d="M100,760 L290,760 L290,885 L50,885 L50,845 Z" fill="#e4f1f0" stroke="#8f857c" stroke-width="4" stroke-linejoin="round" stroke-linecap="round"/><path d="M50,845 L290,845" fill="none" stroke="#8f857c" stroke-width="3" stroke-linejoin="round" stroke-linecap="round"/><path d="M115,745 Q190,730 285,750 L285,810 Q190,825 110,805 Q95,775 115,745 Z" fill="#dff0f2" stroke="#8f857c" stroke-width="3" stroke-linejoin="round" stroke-linecap="round"/><ellipse cx="215" cy="690" rx="70" ry="58" fill="#fce2cf" stroke="#8f857c" stroke-width="3"/><path d="M125,720 Q110,640 190,630 Q180,690 215,740 Q240,765 280,760 Q200,790 130,765 Z" fill="#7a5c4e" stroke="#5e463b" stroke-width="3" stroke-linejoin="round" stroke-linecap="round"/><ellipse cx="248" cy="655" rx="8" ry="4" fill="#e8727a"/><path d="M290,915 L290,720 Q300,665 420,660 L700,665 L700,915 Z" fill="#4dbbaa" stroke="#3a9e90" stroke-width="3" stroke-linejoin="round" stroke-linecap="round"/><path d="M300,745 Q500,800 700,740 L700,915 L290,915 L290,745 Z" fill="#41ae9e"/><path d="M320,852 L690,852" fill="none" stroke="#3a9284" stroke-width="3" stroke-linejoin="round" stroke-linecap="round"/><ellipse cx="592" cy="712" rx="38" ry="18" fill="#fbd9c5" stroke="#8f857c" stroke-width="3"/><path d="M735,560 Q790,535 845,560 L860,915 L690,915 L715,700 L660,690 L665,655 L720,650 Z" fill="#6db8d4" stroke="#4f93ad" stroke-width="3" stroke-linejoin="round" stroke-linecap="round"/><path d="M760,620 L740,915 M810,700 L830,915" fill="none" stroke="#4f93ad" stroke-width="3" stroke-linejoin="round" stroke-linecap="round"/><ellipse cx="648" cy="650" rx="38" ry="26" fill="#dcecf4" stroke="#8f857c" stroke-width="3"/><ellipse cx="725" cy="500" rx="40" ry="45" fill="#fce2cf" stroke="#8f857c" stroke-width="3"/><path d="M690,500 L735,540 L760,520 L720,485 Z" fill="#a6d4e4" stroke="#4f93ad" stroke-width="2" stroke-linejoin="round" stroke-linecap="round"/><ellipse cx="755" cy="450" rx="86" ry="80" fill="#4aa5c9" stroke="#3a86a6" stroke-width="3"/><path d="M690,480 Q740,400 830,400" fill="none" stroke="#3a86a6" stroke-width="3" stroke-linejoin="round" stroke-linecap="round"/></g>
<g transform="translate(800,40) scale(0.22868)"><rect x="440" y="450" width="152" height="440" fill="#e6e6e6" stroke="#8f857c" stroke-width="3"/><rect x="592" y="450" width="108" height="300" fill="#c9c7c5" stroke="#8f857c" stroke-width="3"/><rect x="395" y="298" width="305" height="155" fill="#e8e6e4" stroke="#8f857c" stroke-width="4" rx="5"/><rect x="482" y="345" width="208" height="75" fill="#fafafa" stroke="#c9c5c1" stroke-width="2" rx="8"/><ellipse cx="512" cy="378" rx="10" ry="10" fill="#7fd39a"/><ellipse cx="622" cy="378" rx="16" ry="16" fill="#8fa3e0"/><ellipse cx="672" cy="378" rx="7" ry="7" fill="#5fc27a"/><rect x="540" y="372" width="50" height="12" fill="#b9b9b9"/><rect x="500" y="262" width="105" height="24" fill="#d5d1cc" stroke="#8f857c" stroke-width="3"/><rect x="388" y="82" width="327" height="190" fill="#dedad5" stroke="#8f857c" stroke-width="4" rx="12"/><rect x="406" y="98" width="294" height="158" fill="#8f8a86" rx="4"/><ellipse cx="552" cy="172" rx="136" ry="72" fill="url(#scr)"/><path d="M35,645 L35,700 Q210,715 330,890 L470,890 L470,700 L347,740 Z" fill="#fdfdfd" stroke="#dad6d2" stroke-width="2" stroke-linejoin="round" stroke-linecap="round"/><path d="M350,742 Q430,790 446,890 L378,890 Q405,815 340,760 Z" fill="#ececec" stroke="#aaa39c" stroke-width="3" stroke-linejoin="round" stroke-linecap="round"/><path d="M37,542 L204,437 L250,445 L130,520 Z" fill="#fbfbfb" stroke="#a9a29b" stroke-width="3" stroke-linejoin="round" stroke-linecap="round"/><path d="M46,641 L204,462 L248,455 L545,462 L557,493 L495,598 L347,700 Z" fill="#bfe7ee" stroke="#8fc4cf" stroke-width="3" stroke-linejoin="round" stroke-linecap="round"/><path d="M142,647 Q170,575 279,548 Q322,560 330,640 L433,625 L470,670 L347,742 Q297,752 248,680 Z" fill="#6fb87a" stroke="#4f9a5e" stroke-width="3" stroke-linejoin="round" stroke-linecap="round"/><path d="M322,579 Q420,590 470,560 L480,620 L433,640 L350,690 Z" fill="#a8dfe6" stroke="#7fbfca" stroke-width="3" stroke-linejoin="round" stroke-linecap="round"/><ellipse cx="455" cy="650" rx="28" ry="26" fill="#fce2cf" stroke="#8f857c" stroke-width="3"/><ellipse cx="372" cy="511" rx="87" ry="68" fill="#fce2cf" stroke="#8f857c" stroke-width="3"/><path d="M262,545 Q215,395 350,392 Q440,395 462,450 Q400,435 340,455 Q330,470 325,500 Q300,500 300,540 Q285,555 262,545 Z" fill="#80604f" stroke="#5e463b" stroke-width="3" stroke-linejoin="round" stroke-linecap="round"/><ellipse cx="421" cy="524" rx="20" ry="22" fill="#dccb45" stroke="#a89a2c" stroke-width="2"/><path d="M483,616 L557,486 L562,560 L585,540 L514,703 L520,625 Z" fill="#f1e87f" stroke="#cfc45a" stroke-width="2" stroke-linejoin="round" stroke-linecap="round"/><path d="M690,640 L870,640 L865,890 L695,890 Z" fill="#2f5288" stroke="#24406a" stroke-width="3" stroke-linejoin="round" stroke-linecap="round"/><path d="M610,500 L700,470 L720,520 L625,545 Z" fill="#fce2cf" stroke="#8f857c" stroke-width="3" stroke-linejoin="round" stroke-linecap="round"/><path d="M705,370 Q770,345 830,370 L880,470 L870,650 L688,650 L690,470 L655,440 Z" fill="#2f5288" stroke="#24406a" stroke-width="3" stroke-linejoin="round" stroke-linecap="round"/><path d="M740,355 L775,400 L815,355 Z" fill="#fce2cf" stroke="#7d6c61" stroke-width="4" stroke-linejoin="round" stroke-linecap="round"/><path d="M860,470 L915,490 L920,545 L875,555 Z" fill="#fce2cf" stroke="#8f857c" stroke-width="3" stroke-linejoin="round" stroke-linecap="round"/><path d="M470,505 Q540,480 610,498 L622,542 Q560,560 480,548 Z" fill="#59bfc9" stroke="#3f9aa5" stroke-width="3" stroke-linejoin="round" stroke-linecap="round"/><path d="M800,420 Q830,370 880,390 L890,470 Q850,500 815,480 Z" fill="#59bfc9" stroke="#3f9aa5" stroke-width="3" stroke-linejoin="round" stroke-linecap="round"/><path d="M860,380 Q910,360 915,430 L905,480" fill="none" stroke="#4a4542" stroke-width="12" stroke-linejoin="round" stroke-linecap="round"/><path d="M905,460 Q880,640 720,690 Q640,700 600,705" fill="none" stroke="#5a5550" stroke-width="9" stroke-linejoin="round" stroke-linecap="round"/><path d="M520,530 Q540,700 620,670 Q700,640 700,450" fill="none" stroke="#5a5550" stroke-width="7" stroke-linejoin="round" stroke-linecap="round"/><rect x="412" y="360" width="60" height="45" fill="#55504d" rx="10"/><ellipse cx="775" cy="265" rx="100" ry="95" fill="#fce2cf" stroke="#8f857c" stroke-width="3"/><path d="M735,175 Q800,130 880,165 Q945,230 900,320 Q870,350 840,330 Q850,290 820,285 Q790,230 735,175 Z" fill="#8a6b58" stroke="#6b5246" stroke-width="3" stroke-linejoin="round" stroke-linecap="round"/><path d="M680,262 L745,258 L745,318 Q715,335 690,320 Z" fill="#fafafa" stroke="#8f857c" stroke-width="3" stroke-linejoin="round" stroke-linecap="round"/><ellipse cx="708" cy="238" rx="6" ry="9" fill="#5a4a42"/></g>
<path d="M344.6,841.5 L363.6,823.3 L363.6,831.8 L446.6,831.8 L446.6,823.3 L465.6,841.5 L446.6,859.7 L446.6,851.2 L363.6,851.2 L363.6,859.7 Z" fill="#843c0c"/>
<path d="M537.4,844.6 L556.4,826.7 L556.4,835.9 L585.8,835.9 L585.8,826.7 L604.8,844.6 L585.8,862.5 L585.8,853.3000000000001 L556.4,853.3000000000001 L556.4,862.5 Z" fill="#843c0c"/>
<path d="M662.7,845.2 L681.2,827.2 L681.2,835.7 L781.5,835.7 L781.5,827.2 L800,845.2 L781.5,863.2 L781.5,854.7 L681.2,854.7 L681.2,863.2 Z" fill="#843c0c"/>
<path d="M566.4,282.5 L593,308.9 L580.5,308.9 L580.5,334.9 L593,334.9 L566.4,361.7 L540.2,334.9 L552.4,334.9 L552.4,308.9 L540.2,308.9 Z" fill="#843c0c"/>
<path d="M505.1,247.1 A123.3,94.2 0 0 1 263.5,273.6 L249.5,273.7 L269.5,247 L298,273 L286.1,273.2 A99.8,91.5 0 0 0 481.6,247.1 Z" fill="url(#cl)"/>
<path d="M619.9,246.4 A130.35,83.8 0 0 0 876.4,267.4 L887.2,267 L870.2,246.2 L844.1,267.7 L854.5,267.7 A108.05,81 0 0 1 642.2,246.4 Z" fill="url(#cr)"/>
<g fill="#000" font-family="&quot;Liberation Sans&quot;, &quot;Noto Sans CJK JP&quot;, sans-serif">
<text x="579.7" y="78" font-size="34.4" font-weight="500" text-anchor="middle">【安心・安楽に繋がる看護】</text>
<text x="253.5" y="402.7" font-size="35.2" font-weight="500" text-anchor="middle">【カンファレス】</text>
<text x="580" y="403.3" font-size="35" font-weight="500" text-anchor="middle">【療養生活支援】</text>
<text x="896.9" y="402.8" font-size="34" font-weight="500" text-anchor="middle">【多職種連携】</text>
<text x="430" y="689" font-size="29.5">内視鏡室</text>
<text x="577" y="689" font-size="30.5">血管造影室</text>
<text x="430" y="725" font-size="30">リーダー</text>
<text x="587" y="725" font-size="31.2">リーダー</text>
<text x="280" y="918.2" font-size="27.6" font-weight="bold" text-anchor="middle">【検査担当<tspan dx="16">看護師</tspan>】</text>
<text x="876.2" y="922.8" font-size="27.3" font-weight="bold" text-anchor="middle">【検査担当<tspan dx="16">看護師</tspan>】</text>
</g>
</svg></body></html>
